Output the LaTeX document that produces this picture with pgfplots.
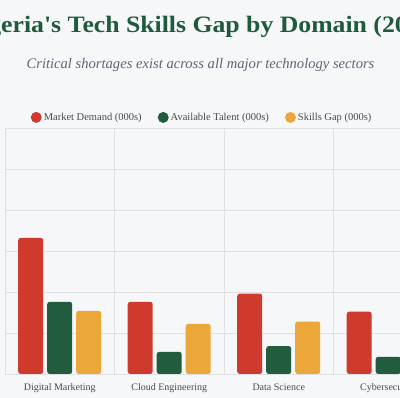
\documentclass[border=0pt]{standalone}
\usepackage{fontspec}
\setmainfont{Liberation Serif}
\usepackage{pgfplots}
\pgfplotsset{compat=1.18}
\definecolor{cRed}{HTML}{CF3A2E}
\definecolor{cGreen}{HTML}{215C3F}
\definecolor{cGold}{HTML}{ECA73A}
\definecolor{cTitle}{HTML}{1F5A3C}
\definecolor{cSub}{HTML}{5E6577}
\definecolor{cBg}{HTML}{F6F7F8}
\definecolor{cGrid}{HTML}{DFE0E3}
\definecolor{cTick}{HTML}{4A4A4A}
\begin{document}
\begin{tikzpicture}[x=1pt,y=1pt]
\useasboundingbox (0,0) rectangle (400,398);
\fill[cBg] (0,0) rectangle (400,398);
\clip (0,0) rectangle (400,398);
\node[anchor=base west, font=\fontsize{23.5}{28}\selectfont\bfseries, text=cTitle, inner sep=0, xscale=1.095] at (1,365) {\llap{Nig}eria\textquotesingle s Tech Skills Gap by Domain (20\rlap{24)}};
\node[anchor=base, font=\fontsize{14.6}{17}\selectfont\itshape, text=cSub, inner sep=0] at (200.5,329) {Critical shortages exist across all major technology sectors};
\begin{axis}[
  at={(5pt,24pt)}, anchor=south west,
  scale only axis, width=438pt, height=246pt,
  xmin=-0.5, xmax=3.5, ymin=0, ymax=300,
  ybar=4pt, bar width=25pt,
  xtick={0,1,2,3},
  xticklabels={Digital Marketing, Cloud Engineering, Data Science, Cybersecurity},
  minor xtick={-0.5,0.5,1.5,2.5,3.5},
  xminorgrids, ymajorgrids, ytick={0,50,...,300}, yticklabels={},
  major tick length=0pt, minor tick length=0pt,
  grid style={cGrid, line width=0.7pt},
  minor grid style={cGrid, line width=0.7pt},
  axis line style={draw=none},
  xticklabel style={font=\fontsize{10}{12}\selectfont, text=cTick, yshift=-6pt},
  legend columns=3,
  legend style={at={(0.45,1.043)}, anchor=center, draw=none, fill=none,
    font=\fontsize{10.5}{12}\selectfont, text=cTick,
    /tikz/every even column/.append style={column sep=14pt}},
  legend image code/.code={\fill[#1] (3pt,0pt) circle (5.5pt);},
]
\addplot[fill=cRed, draw=none, rounded corners=2.5pt] coordinates {(0,166) (1,88) (2,98) (3,76)};
\addplot[fill=cGreen, draw=none, rounded corners=2.5pt] coordinates {(0,88) (1,27) (2,34) (3,21)};
\addplot[fill=cGold, draw=none, rounded corners=2.5pt] coordinates {(0,77) (1,61) (2,64) (3,55)};
\legend{Market Demand (000s), Available Talent (000s), Skills Gap (000s)}
\end{axis}
\end{tikzpicture}
\end{document}
